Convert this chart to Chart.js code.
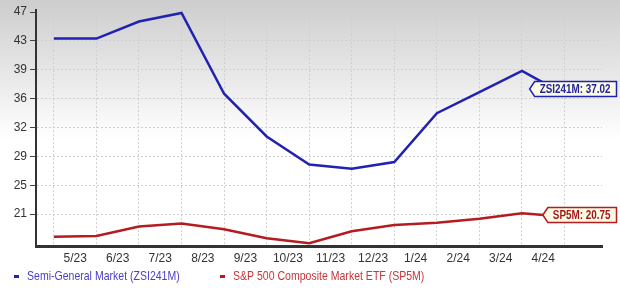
<!DOCTYPE html>
<html>
<head>
<meta charset="utf-8">
<script src="https://cdn.jsdelivr.net/npm/chart.js@4.4.1/dist/chart.umd.min.js"></script>
<style>
  html, body { margin: 0; padding: 0; background: #fff; }
  canvas { display: block; }
</style>
</head>
<body>
<canvas id="chart" width="620" height="294"></canvas>
<script>
// month labels sit between the month gridlines
const monthLabels = ["5/23", "6/23", "7/23", "8/23", "9/23", "10/23", "11/23", "12/23", "1/24", "2/24", "3/24", "4/24"];
// x position of each point, in months from the first gridline
const monthPos = [0, 1, 2, 3, 4, 5, 6, 7, 8, 9, 10, 11, 11.8];
const semiValues = [43.6, 43.6, 45.8, 46.9, 36.5, 31.0, 27.4, 26.85, 27.7, 34.0, 36.7, 39.45, 37.02];
const sp5Values = [18.1, 18.2, 19.4, 19.8, 19.05, 17.9, 17.25, 18.8, 19.6, 19.9, 20.4, 21.1, 20.75];
const yTickLabels = [21, 25, 29, 32, 36, 39, 43, 47];
const seriesNames = ["Semi-General Market (ZSI241M)", "S&P 500 Composite Market ETF (SP5M)"];
const seriesTags = ["ZSI241M", "SP5M"];

const FONT = "'Liberation Sans', Arial, sans-serif";

function points(vals) {
  return vals.map((v, i) => ({ x: monthPos[i], y: v }));
}

const background = {
  id: "background",
  beforeDraw(chart) {
    const ctx = chart.ctx;
    const g = ctx.createLinearGradient(0, 0, 0, 140);
    g.addColorStop(0, "#cdcdcd");
    g.addColorStop(1, "#ffffff");
    ctx.save();
    ctx.fillStyle = "#ffffff";
    ctx.fillRect(0, 0, chart.width, chart.height);
    ctx.fillStyle = g;
    ctx.fillRect(0, 0, chart.width, 140);
    ctx.restore();
  }
};

// last value tags on the right edge (text squeezed like a narrow font)
const SQUEEZE = 0.76;
const lastTags = {
  id: "lastTags",
  afterDatasetsDraw(chart) {
    const ctx = chart.ctx;
    const y = chart.scales.y;
    ctx.save();
    ctx.font = "bold 13px " + FONT;
    ctx.textBaseline = "middle";
    chart.data.datasets.forEach((ds, i) => {
      const v = ds.data[ds.data.length - 1].y;
      const py = Math.round(y.getPixelForValue(v)) - 1;
      const text = seriesTags[i] + ": " + v.toFixed(2);
      const tw = ctx.measureText(text).width * SQUEEZE;
      const right = chart.width - 3.5;
      const left = right - tw - 11;
      const h = 15;
      ctx.beginPath();
      ctx.moveTo(left - 5, py);
      ctx.lineTo(left, py - h / 2);
      ctx.lineTo(right, py - h / 2);
      ctx.lineTo(right, py + h / 2);
      ctx.lineTo(left, py + h / 2);
      ctx.closePath();
      ctx.fillStyle = "#fbfae4";
      ctx.fill();
      ctx.lineWidth = 1.5;
      ctx.strokeStyle = ds.borderColor;
      ctx.stroke();
      ctx.save();
      ctx.translate(left + 5, py + 0.5);
      ctx.scale(SQUEEZE, 1);
      ctx.fillStyle = ds.tagColor;
      ctx.textAlign = "left";
      ctx.fillText(text, 0, 0);
      ctx.restore();
    });
    ctx.restore();
  }
};

const bottomLegend = {
  id: "bottomLegend",
  afterDraw(chart) {
    const ctx = chart.ctx;
    const starts = [14, 220];
    ctx.save();
    ctx.font = "13px " + FONT;
    ctx.textBaseline = "middle";
    chart.data.datasets.forEach((ds, i) => {
      const x = starts[i];
      const yy = 276;
      ctx.fillStyle = ds.borderColor;
      ctx.fillRect(x, yy - 1, 5, 3);
      ctx.save();
      ctx.translate(x + 13, yy);
      ctx.scale(0.81, 1);
      ctx.fillStyle = ds.legendColor;
      ctx.fillText(ds.label, 0, 0);
      ctx.restore();
    });
    ctx.restore();
  }
};

new Chart(document.getElementById("chart"), {
  type: "line",
  data: {
    datasets: [
      {
        label: seriesNames[0],
        data: points(semiValues),
        borderColor: "#2222b2",
        tagColor: "#23239a",
        legendColor: "#4a3fc4",
        borderWidth: 2.5,
        pointRadius: 0,
        tension: 0
      },
      {
        label: seriesNames[1],
        data: points(sp5Values),
        borderColor: "#b41c1f",
        tagColor: "#9e1719",
        legendColor: "#c8363a",
        borderWidth: 2.5,
        pointRadius: 0,
        tension: 0
      }
    ]
  },
  options: {
    responsive: false,
    animation: false,
    layout: { padding: { top: 9, right: 18, bottom: 28, left: 0 } },
    plugins: {
      legend: { display: false },
      tooltip: { enabled: false }
    },
    scales: {
      x: {
        type: "linear",
        min: -0.42,
        max: 12.88,
        afterBuildTicks(scale) {
          const t = [];
          for (let i = 0; i <= 24; i++) t.push({ value: i / 2 });
          scale.ticks = t;
        },
        afterFit(scale) { scale.height = 20; },
        ticks: {
          autoSkip: false,
          maxRotation: 0,
          padding: 5,
          color: "#333",
          font: { family: FONT, size: 12 },
          callback: (v) => (v % 1 === 0 ? "" : monthLabels[Math.floor(v)])
        },
        grid: {
          drawTicks: false,
          color: (c) => (c.tick && c.tick.value % 1 === 0 ? "#cfcfcf" : "rgba(0,0,0,0)"),
          lineWidth: 1
        },
        border: { display: true, color: "#333", width: 3, dash: [2, 2] }
      },
      y: {
        min: 16.9,
        max: 47.25,
        afterBuildTicks(scale) {
          scale.ticks = yTickLabels.map((v, i) => ({ value: 21 + i * 26 / 7 }));
        },
        afterFit(scale) { scale.width = 36; },
        ticks: {
          padding: 3,
          color: "#333",
          font: { family: FONT, size: 12 },
          callback: (v, i) => yTickLabels[i]
        },
        grid: {
          color: "#cfcfcf",
          tickColor: "#444",
          tickLength: 6,
          lineWidth: 1
        },
        border: { display: true, color: "#333", width: 2, dash: [2, 2] }
      }
    }
  },
  plugins: [background, lastTags, bottomLegend]
});
</script>
</body>
</html>
